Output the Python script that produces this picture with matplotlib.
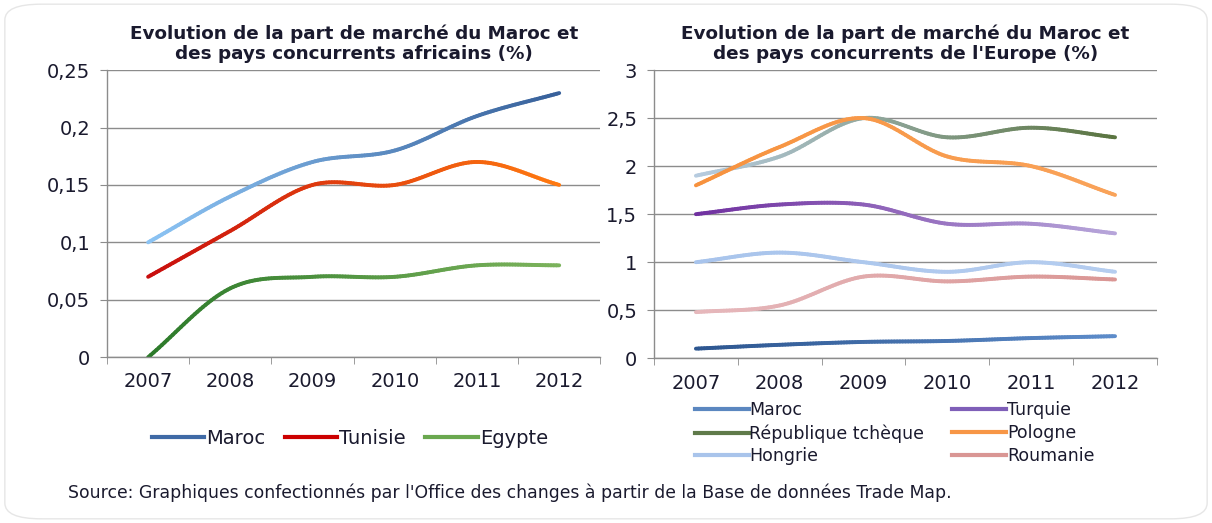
import numpy as np
import matplotlib
matplotlib.use("Agg")
import matplotlib.pyplot as plt
from matplotlib.collections import LineCollection
from matplotlib.lines import Line2D
from matplotlib.colors import to_rgb
from matplotlib.ticker import FuncFormatter, FixedLocator
from matplotlib.patches import FancyBboxPatch

# data
years = ["2007", "2008", "2009", "2010", "2011", "2012"]

# left chart: Afrique
af_maroc = [0.10, 0.14, 0.17, 0.18, 0.21, 0.23]
af_tunisie = [0.07, 0.11, 0.15, 0.15, 0.17, 0.15]
af_egypte = [0.00, 0.06, 0.07, 0.07, 0.08, 0.08]

# right chart: Europe
eu_maroc = [0.10, 0.14, 0.17, 0.18, 0.21, 0.23]
eu_turquie = [1.5, 1.6, 1.6, 1.4, 1.4, 1.3]
eu_tcheque = [1.9, 2.1, 2.5, 2.3, 2.4, 2.3]
eu_pologne = [1.8, 2.2, 2.5, 2.1, 2.0, 1.7]
eu_hongrie = [1.0, 1.1, 1.0, 0.9, 1.0, 0.9]
eu_roumanie = [0.48, 0.55, 0.85, 0.80, 0.85, 0.82]

plt.rcParams['font.family'] = ['DejaVu Sans']
txt = '#1a1a2e'
grid_c = '#8c8c8c'


def smooth(x, y, n=30):
    # catmull-rom style smoothing, like excel "smoothed line"
    x = np.asarray(x, float)
    y = np.asarray(y, float)
    px = np.concatenate([[2*x[0]-x[1]], x, [2*x[-1]-x[-2]]])
    py = np.concatenate([[2*y[0]-y[1]], y, [2*y[-1]-y[-2]]])
    xs, ys = [], []
    for i in range(1, len(px) - 2):
        t = np.linspace(0, 1, n, endpoint=False)
        for p, out in ((px, xs), (py, ys)):
            p0, p1, p2, p3 = p[i-1], p[i], p[i+1], p[i+2]
            out.append(0.5*((2*p1) + (-p0+p2)*t + (2*p0-5*p1+4*p2-p3)*t**2
                            + (-p0+3*p1-3*p2+p3)*t**3))
    xs.append([x[-1]])
    ys.append([y[-1]])
    return np.concatenate(xs), np.concatenate(ys)


def grad_line(ax, y, c0, c1, lw=2.8):
    x = np.arange(len(y))
    xs, ys = smooth(x, y)
    pts = np.column_stack([xs, ys]).reshape(-1, 1, 2)
    segs = np.concatenate([pts[:-1], pts[1:]], axis=1)
    f = (xs[:-1] - xs[0]) / (xs[-1] - xs[0])
    a, b = np.array(to_rgb(c0)), np.array(to_rgb(c1))
    cols = a[None, :] * (1 - f[:, None]) + b[None, :] * f[:, None]
    lc = LineCollection(segs, colors=cols, linewidths=lw, capstyle='round')
    ax.add_collection(lc)


def style_axes(ax, ymax, step, fmt):
    ax.set_xlim(-0.5, 5.5)
    ax.set_ylim(0, ymax)
    ticks = np.arange(0, ymax + step/2, step)
    ax.set_yticks(ticks)
    ax.yaxis.set_major_formatter(FuncFormatter(fmt))
    ax.set_xticks(range(6))
    ax.set_xticklabels(years)
    ax.xaxis.set_minor_locator(FixedLocator(np.arange(-0.5, 6, 1)))
    ax.tick_params(axis='x', which='major', length=0, pad=11, labelsize=14, labelcolor=txt)
    ax.tick_params(axis='x', which='minor', length=5, color=grid_c, direction='out')
    ax.tick_params(axis='y', length=5, color=grid_c, direction='out', pad=7, labelsize=14, labelcolor=txt)
    ax.grid(axis='y', color=grid_c, lw=1)
    ax.set_axisbelow(True)
    for s in ['top', 'right']:
        ax.spines[s].set_visible(False)
    for s in ['left', 'bottom']:
        ax.spines[s].set_color(grid_c)
        ax.spines[s].set_linewidth(1)


fig = plt.figure(figsize=(12.12, 5.23), dpi=100)

# rounded frame
frame = FancyBboxPatch((0.004, 0.008), 0.992, 0.984, boxstyle="round,pad=0,rounding_size=0.03",
                       transform=fig.transFigure, fc='white', ec='#e6e6e6', lw=1, zorder=-10)
fig.patches.append(frame)

def fmt_comma(v, pos):
    s = ('%g' % round(v, 2)).replace('.', ',')
    return s

# left chart
ax1 = fig.add_axes([0.0883, 0.317, 0.407, 0.549])
style_axes(ax1, 0.25, 0.05, fmt_comma)
grad_line(ax1, af_maroc, '#8cc4f4', '#37609a')
grad_line(ax1, af_tunisie, '#c80d0d', '#ff7a10')
grad_line(ax1, af_egypte, '#2c7a2a', '#7cb35c')
ax1.set_title("Evolution de la part de marché du Maroc et\ndes pays concurrents africains (%)",
              fontsize=13.2, fontweight='bold', color=txt, pad=8, linespacing=1.15)
h1 = [Line2D([], [], color='#3f6aa6', lw=3),
      Line2D([], [], color='#cc0000', lw=3),
      Line2D([], [], color='#6aa84f', lw=3)]
ax1.legend(h1, ['Maroc', 'Tunisie', 'Egypte'], ncol=3, loc='upper center',
           bbox_to_anchor=(0.492, -0.19), frameon=False, fontsize=14,
           handlelength=2.7, handletextpad=0.1, columnspacing=1.0, labelcolor=txt)

# right chart
ax2 = fig.add_axes([0.5396, 0.315, 0.4150, 0.551])
style_axes(ax2, 3, 0.5, fmt_comma)
grad_line(ax2, eu_maroc, '#2d5690', '#5d8cca')
grad_line(ax2, eu_tcheque, '#b7cce0', '#5a7440')
grad_line(ax2, eu_pologne, '#f7923e', '#f9a35a')
grad_line(ax2, eu_turquie, '#7030a0', '#b7a6da')
grad_line(ax2, eu_hongrie, '#a8c4ec', '#b5cdef')
grad_line(ax2, eu_roumanie, '#e6b8bc', '#da9694')
ax2.set_title("Evolution de la part de marché du Maroc et\ndes pays concurrents de l'Europe (%)",
              fontsize=13.2, fontweight='bold', color=txt, pad=8, linespacing=1.15)
h2 = [Line2D([], [], color='#5b87c0', lw=3),
      Line2D([], [], color='#5f7a4a', lw=3),
      Line2D([], [], color='#a9c4eb', lw=3),
      Line2D([], [], color='#7f5fb8', lw=3),
      Line2D([], [], color='#f79646', lw=3),
      Line2D([], [], color='#d99694', lw=3)]
ax2.legend(h2, ['Maroc', 'République tchèque', 'Hongrie', 'Turquie', 'Pologne', 'Roumanie'],
           ncol=2, loc='upper left', bbox_to_anchor=(0.05, -0.095), frameon=False, fontsize=12.5,
           handlelength=3.1, handletextpad=0.05, columnspacing=1.6, labelspacing=0.28,
           labelcolor=txt)

fig.text(0.056, 0.058, "Source: Graphiques confectionnés par l'Office des changes à partir de la Base de données Trade Map.",
         fontsize=12.4, color=txt, va='center')

fig.savefig("out.png", dpi=100)
